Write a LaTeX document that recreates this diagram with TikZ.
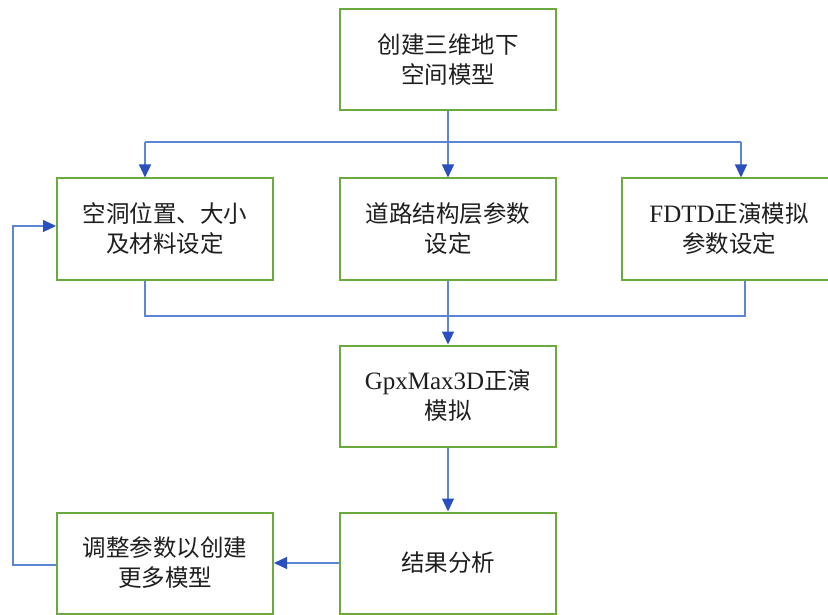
\documentclass[tikz,border=0pt]{standalone}
\usepackage{fontspec}
\setmainfont{Liberation Serif}
\newfontfamily\cjk{Noto Sans CJK SC}
\usetikzlibrary{arrows.meta}
\definecolor{boxgreen}{HTML}{6AAA3E}
\definecolor{linkblue}{HTML}{5B86D6}
\definecolor{tipblue}{HTML}{2A50C0}
\definecolor{txt}{HTML}{1E1E1E}
\tikzset{
  stepbox/.style={draw=boxgreen, line width=2pt, minimum width=216pt, minimum height=101pt,
    inner sep=0pt, align=center, text=txt, font=\fontsize{23.5}{30}\selectfont\cjk},
  link/.style={draw=linkblue, line width=1.1pt},
  arr/.style={link, -{Triangle[width=12pt,length=13pt,color=tipblue]}}
}
\begin{document}
\begin{tikzpicture}[x=1pt,y=-1pt]
\useasboundingbox (0,0) rectangle (828,615);
\clip (0,0) rectangle (828,615);
\node[stepbox] (top) at (448,59.5) {创建三维地下\\空间模型};
\node[stepbox] (l2) at (165,229) {空洞位置、大小\\及材料设定};
\node[stepbox] (m2) at (448,229) {道路结构层参数\\设定};
\node[stepbox, minimum width=214pt] (r2) at (729,229) {{\rmfamily\fontsize{25}{30}\selectfont FDTD}正演模拟\\参数设定};
\node[stepbox] (gpx) at (448,396) {{\rmfamily\fontsize{25}{30}\selectfont GpxMax3D}正演\\模拟};
\node[stepbox] (res) at (448,563) {结果分析};
\node[stepbox] (adj) at (165,563) {调整参数以创建\\更多模型};
% top distribution
\coordinate (ja) at (145,142);
\coordinate (jb) at (741,142);
\draw[link] (ja) -- (jb);
\draw[arr] (top.south) -- (m2.north);
\draw[arr] (ja) -- (ja |- l2.north);
\draw[arr] (jb) -- (jb |- r2.north);
% collection
\coordinate (ka) at (145,316);
\coordinate (kb) at (745,316);
\draw[link] (ka |- l2.south) -- (ka) -- (kb) -- (kb |- r2.south);
\draw[arr] (m2.south) -- (gpx.north);
\draw[arr] (gpx.south) -- (res.north);
\draw[arr] (res.west) -- (adj.east);
% feedback
\coordinate (fb) at (13,565);
\coordinate (ft) at (13,226);
\draw[arr] (adj.west |- fb) -- (fb) -- (ft) -- (ft -| l2.west);
\end{tikzpicture}
\end{document}
